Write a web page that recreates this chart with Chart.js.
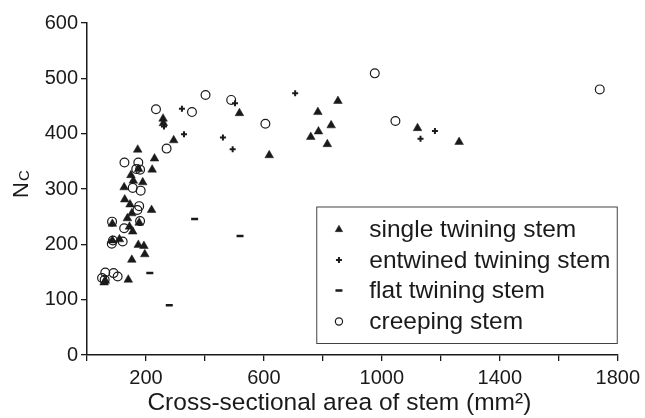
<!DOCTYPE html>
<html><head><meta charset="utf-8">
<script src="https://cdn.jsdelivr.net/npm/chart.js@4/dist/chart.umd.min.js"></script>
<style>html,body{margin:0;padding:0;background:#fff}#wrap{width:645px;height:418px}</style>
</head><body><div id="wrap"><canvas id="c" width="645" height="418"></canvas></div>
<script>
// ---- data ----
const singleX = [258,259,517,294,172,229,221,149,157,189,126,128,146,152,137,86,177,219,144,155,174,193,196,152,140,58,62,110,86,175,618,759,785,783,815,828,851,1121,1262];
const singleY = [427,419,437,388,371,355,335,325,315,312,303,281,272,256,247,237,239,262,232,223,199,197,182,172,136,131,134,209,207,336,361,394,404,439,381,415,459,410,385];
const entwinedX = [261,322,329,461,494,502,706,1131,1180];
const entwinedY = [413,445,399,393,372,455,473,391,405];
const flatX = [213,279,365,519];
const flatY = [148,90,246,215];
const creepX = [234,127,174,167,180,155,182,177,171,85,180,126,270,356,402,489,605,976,1046,1739,84,121,88,51,62,90,104,60];
const creepY = [444,348,348,336,335,302,297,269,262,241,242,229,373,439,470,461,418,509,423,480,201,205,207,139,149,148,142,136];
const seriesNames = ['single twining stem','entwined twining stem','flat twining stem','creeping stem'];
const xTickLabels = [200,600,1000,1400,1800];
const xTitle = 'Cross-sectional area of stem (mm\u00B2)';
const yTitleMain = 'N';
const yTitleSub = 'C';

const pts = (xs, ys) => xs.map((x, i) => ({x: x, y: ys[i]}));
const INK = '#1a1a1a';
const FAM = '"Liberation Sans", Arial, sans-serif';

const datasets = [
  {label: seriesNames[0], data: pts(singleX, singleY), pointStyle: 'triangle', pointRadius: 5, backgroundColor: INK, borderColor: INK, borderWidth: 0.5},
  {label: seriesNames[1], data: pts(entwinedX, entwinedY), pointStyle: 'cross', pointRadius: 3, backgroundColor: INK, borderColor: INK, borderWidth: 2},
  {label: seriesNames[2], data: pts(flatX, flatY), pointStyle: 'line', pointRadius: 3.5, backgroundColor: INK, borderColor: INK, borderWidth: 2.5},
  {label: seriesNames[3], data: pts(creepX, creepY), pointStyle: 'circle', pointRadius: 4.4, backgroundColor: 'rgba(0,0,0,0)', borderColor: INK, borderWidth: 1.2}
];

const legendPlugin = {
  id: 'boxLegend',
  afterDraw(chart) {
    const ctx = chart.ctx, a = chart.chartArea;
    const right = a.right, left = a.right - 301.5, top = a.top + 183.5, bottom = a.bottom - 11;
    ctx.save();
    ctx.fillStyle = '#fff';
    ctx.fillRect(left, top, right - left, bottom - top);
    ctx.strokeStyle = '#444';
    ctx.lineWidth = 1;
    ctx.strokeRect(left + 0.5, top + 0.5, right - left - 1, bottom - top - 1);
    const rowY = [top + 23, top + 53.5, top + 84, top + 115];
    chart.data.datasets.forEach((ds, i) => {
      ctx.fillStyle = ds.backgroundColor;
      ctx.strokeStyle = ds.borderColor;
      ctx.lineWidth = ds.borderWidth;
      const r = ds.pointStyle === 'circle' ? 3.6 : (ds.pointStyle === 'triangle' ? 4.3 : ds.pointRadius);
      Chart.helpers.drawPoint(ctx, {pointStyle: ds.pointStyle, radius: r, rotation: 0, borderWidth: ds.borderWidth}, left + 22.7, rowY[i]);
      ctx.fillStyle = INK;
      ctx.font = '24.5px ' + FAM;
      ctx.textBaseline = 'middle';
      ctx.textAlign = 'left';
      ctx.fillText(ds.label, left + 53, rowY[i] + 1);
    });
    ctx.restore();
  }
};

const titlesPlugin = {
  id: 'axisTitles',
  afterDraw(chart) {
    const ctx = chart.ctx, a = chart.chartArea;
    ctx.save();
    ctx.fillStyle = INK;
    // x-axis title
    ctx.font = '24.5px ' + FAM;
    ctx.textAlign = 'center';
    ctx.textBaseline = 'middle';
    ctx.fillText(xTitle, (a.left + a.right) / 2 - 13, a.bottom + 48);
    // y-axis title N with subscript C
    ctx.translate(28, 198);
    ctx.rotate(-Math.PI / 2);
    ctx.textBaseline = 'alphabetic';
    ctx.textAlign = 'left';
    ctx.font = '22px ' + FAM;
    ctx.fillText(yTitleMain, 0, 0);
    const w = ctx.measureText(yTitleMain).width;
    ctx.font = '15px ' + FAM;
    ctx.fillText(yTitleSub, w + 1, 1);
    ctx.restore();
  }
};

new Chart(document.getElementById('c'), {
  type: 'scatter',
  data: {datasets: datasets},
  options: {
    responsive: false,
    devicePixelRatio: 1,
    animation: false,
    layout: {padding: {top: 23, right: 25, left: 0, bottom: 0}},
    plugins: {legend: {display: false}, tooltip: {enabled: false}},
    scales: {
      x: {
        type: 'linear', min: 0, max: 1800,
        afterFit: s => { s.height = 63; },
        ticks: {
          stepSize: 200, autoSkip: false, maxRotation: 0, padding: 5, color: INK,
          font: {family: FAM, size: 20},
          callback: v => (xTickLabels.includes(v) ? String(v) : '')
        },
        grid: {drawOnChartArea: false, drawTicks: true, tickLength: 6, color: INK, lineWidth: 1.3},
        border: {display: true, color: INK, width: 1.5}
      },
      y: {
        min: 0, max: 600,
        afterFit: s => { s.width = 87; },
        ticks: {stepSize: 100, padding: 3, color: INK, font: {family: FAM, size: 20}},
        grid: {drawOnChartArea: false, drawTicks: true, tickLength: 6, color: INK, lineWidth: 1.3},
        border: {display: true, color: INK, width: 1.5}
      }
    }
  },
  plugins: [legendPlugin, titlesPlugin]
});
</script>
</body></html>
